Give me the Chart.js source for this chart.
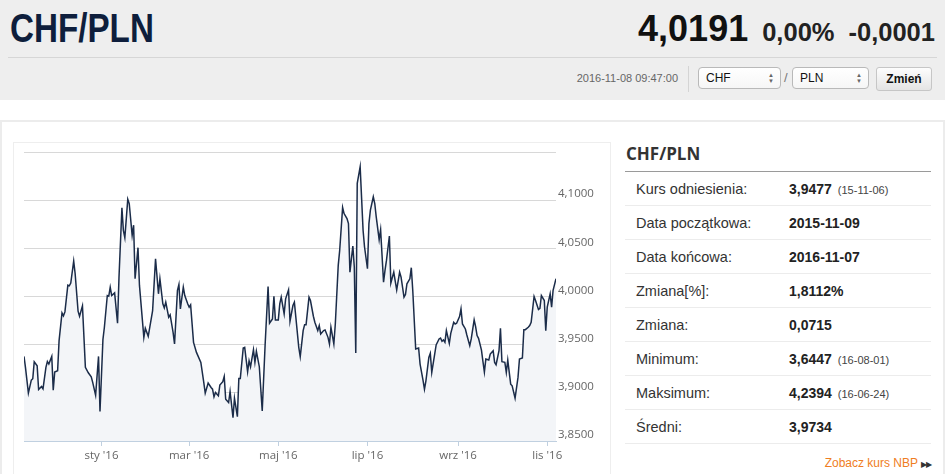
<!DOCTYPE html>
<html lang="pl">
<head>
<meta charset="utf-8">
<title>CHF/PLN</title>
<script src="https://cdn.jsdelivr.net/npm/chart.js"></script>
<style>
  body { margin: 0; width: 945px; height: 474px; overflow: hidden; background: #fff; position: relative; font-family: "Liberation Sans", Arial, sans-serif; }
  .abs { position: absolute; }
  .naglowek { left: 0; top: 0; width: 945px; height: 100px; background: #eeeeee; }
  .tytul { left: 10px; top: 8px; font: bold 40px/40px "Liberation Sans", Arial, sans-serif; color: #0e1e3c; transform: scaleX(0.83); transform-origin: left top; }
  .notowanie { right: 10px; top: 9px; font: bold 36px/40px "Liberation Sans", Arial, sans-serif; color: #111; white-space: nowrap; }
  .notowanie .maly { font-size: 25.5px; color: #222; margin-left: 14px; }
  .linia { left: 8px; top: 57px; width: 929px; height: 1px; background: #d6d6d6; }
  .data { right: 267px; top: 71px; font-size: 11px; line-height: 14px; color: #666; }
  .pion { left: 688px; top: 66px; width: 1px; height: 26px; background: #d4d4d4; }
  .wybor { top: 67px; height: 22px; box-sizing: border-box; border: 1px solid #b9b9b9; border-radius: 4px; background: linear-gradient(#fff, #f6f6f6); font-size: 12px; line-height: 20px; padding-left: 7px; color: #111; }
  .wybor .strz { position: absolute; right: 6px; top: 4px; font-size: 6px; line-height: 6px; color: #666; }
  .slash { left: 784px; top: 70px; font-size: 13px; line-height: 16px; color: #777; }
  .przycisk { left: 876px; top: 67px; width: 56px; height: 24px; box-sizing: border-box; border: 1px solid #c6c6c6; border-radius: 3px; background: linear-gradient(#fdfdfd, #e4e4e4); font: bold 12px/22px "Liberation Sans", Arial, sans-serif; text-align: center; color: #111; }
  .karta { left: 0; top: 120px; width: 945px; height: 400px; box-sizing: border-box; border: 2px solid #ececec; }
  .ramka { left: 13px; top: 142px; width: 598px; height: 360px; box-sizing: border-box; border: 1px solid #eeeeee; }
  .wykres { left: 14px; top: 143px; width: 597px; height: 331px; }
  .panel-tytul { left: 626px; top: 144px; font: bold 17px/20px "Open Sans", sans-serif; color: #333; }
  .panel-linia { left: 625px; top: 171px; width: 306px; height: 1px; background: #9a9a9a; }
  .tabela { left: 625px; top: 172px; width: 306px; }
  .wiersz { position: relative; height: 33px; border-bottom: 1px solid #ececec; line-height: 34px; font-size: 14.5px; color: #333; }
  .wiersz .et { position: absolute; left: 11px; }
  .wiersz .wart { position: absolute; left: 164px; font-weight: bold; font-size: 14px; color: #222; }
  .wiersz .wart small { font-weight: normal; font-size: 11px; color: #444; margin-left: 6px; }
  .nbp { right: 14px; top: 455px; font-size: 12px; line-height: 16px; color: #ef7d22; }
  .nbp span { color: #333; font-size: 8px; margin-left: 3px; letter-spacing: -1px; }
</style>
</head>
<body>
<div class="abs naglowek"></div>
<div class="abs tytul">CHF/PLN</div>
<div class="abs notowanie">4,0191<span class="maly">0,00%</span><span class="maly">-0,0001</span></div>
<div class="abs linia"></div>
<div class="abs data">2016-11-08 09:47:00</div>
<div class="abs pion"></div>
<div class="abs wybor" style="left:698px;width:83px;">CHF<span class="strz">▲<br>▼</span></div>
<div class="abs slash">/</div>
<div class="abs wybor" style="left:792px;width:77px;">PLN<span class="strz">▲<br>▼</span></div>
<div class="abs przycisk">Zmień</div>

<div class="abs karta"></div>
<div class="abs ramka"></div>
<div class="abs wykres"><canvas id="kursWykres"></canvas></div>

<div class="abs panel-tytul">CHF/PLN</div>
<div class="abs panel-linia"></div>
<div class="abs tabela">
  <div class="wiersz"><span class="et">Kurs odniesienia:</span><span class="wart">3,9477<small>(15-11-06)</small></span></div>
  <div class="wiersz"><span class="et">Data początkowa:</span><span class="wart">2015-11-09</span></div>
  <div class="wiersz"><span class="et">Data końcowa:</span><span class="wart">2016-11-07</span></div>
  <div class="wiersz"><span class="et">Zmiana[%]:</span><span class="wart">1,8112%</span></div>
  <div class="wiersz"><span class="et">Zmiana:</span><span class="wart">0,0715</span></div>
  <div class="wiersz"><span class="et">Minimum:</span><span class="wart">3,6447<small>(16-08-01)</small></span></div>
  <div class="wiersz"><span class="et">Maksimum:</span><span class="wart">4,2394<small>(16-06-24)</small></span></div>
  <div class="wiersz"><span class="et">Średni:</span><span class="wart">3,9734</span></div>
</div>
<div class="abs nbp">Zobacz kurs NBP<span>▶▶</span></div>

<script>
// dni liczone od 2015-11-09 (poczatek zakresu)
const dni = [0,1,3,5,6,7,9,10,12,13,15,16,17,19,20,21,23,24,26,27,28,30,31,32,34,35,37,38,40,42,44,46,47,49,51,52,54,55,57,58,59,60,62,64,65,67,68,69,71,72,74,75,76,78,79,82,83,85,88,90,92,
  93,95,96,97,99,100,102,103,105,106,107,109,110,112,113,114,116,118,121,123,124,126,128,129,130,131,133,134,136,137,138,140,141,143,144,146,147,148,150,151,153,154,155,157,158,159,161,163,165,167,168,170,171,172,174,175,176,178,179,181,182,184,185,
  188,189,191,192,193,195,196,198,199,201,202,203,205,206,208,209,210,212,213,215,216,218,219,221,222,223,225,226,227,228,230,232,233,235,236,237,239,240,241,243,244,246,247,248,250,251,253,254,255,257,258,260,261,262,264,265,266,268,270,271,273,274,275,277,
  278,279,281,282,284,285,286,287,288,289,291,292,294,295,296,298,299,300,302,303,305,306,308,309,310,311,313,314,315,316,318,319,321,322,323,325,326,327,329,330,331,333,334,336,338,339,341,342,343,345,346,347,349,350,352,353,354,356,357,358,360,361,362,364];

const kurs = [3.9378,3.9264,3.8997,3.9132,3.9146,3.9323,3.9281,3.9035,3.9066,3.9042,3.9264,3.9326,3.9299,3.9378,3.9028,3.9215,3.9229,3.9542,3.9830,3.9799,
  3.9840,4.0118,4.0111,4.0139,4.0368,4.0236,3.9847,3.9795,3.9903,3.9264,3.9208,3.9167,3.9108,3.8976,3.9378,3.8806,3.9552,3.9681,4.0010,4.0003,
  4.0097,4.0010,4.0038,3.9722,4.0201,4.0920,4.0687,4.0611,4.1010,4.0965,4.0635,4.0740,4.0184,4.0507,4.0115,3.9576,3.9670,3.9587,3.9854,4.0392,4.0028,
  4.0184,3.9924,3.9882,3.9941,3.9785,3.9809,3.9628,3.9507,4.0063,4.0125,3.9872,4.0097,4.0010,3.9924,3.9889,3.9913,3.9524,3.9420,3.9316,3.9108,
  3.8997,3.9101,3.9056,3.9038,3.8958,3.9003,3.8969,3.9080,3.9115,3.9170,3.8934,3.8899,3.9014,3.8743,3.8944,3.8753,3.9150,3.9150,3.9465,3.9472,
  3.9219,3.9333,3.9271,3.9448,3.9316,3.9431,3.9271,3.8813,3.9507,4.0104,3.9722,3.9767,4.0003,3.9757,3.9757,3.9924,3.9993,3.9819,3.9976,4.0069,
  3.9743,3.9906,3.9941,
  3.9472,3.9375,3.9646,3.9708,3.9708,3.9993,3.9958,3.9795,3.9733,3.9646,3.9698,3.9611,3.9646,3.9653,3.9576,3.9507,3.9681,3.9507,3.9715,4.0323,
  4.0479,4.0924,4.0861,4.0809,4.0757,4.0253,4.0524,4.0306,3.9413,4.1174,4.1347,4.0687,4.0514,4.0288,4.0757,4.0896,4.1035,4.0965,4.0826,4.0590,
  4.0694,4.0149,4.0271,4.0375,4.0628,4.0139,4.0253,4.0160,4.0069,4.0253,4.0201,3.9993,4.0021,4.0132,4.0184,4.0299,4.0063,3.9455,3.9465,3.9299,
  3.9132,3.9038,3.9125,3.9368,
  3.9410,3.9212,3.9403,3.9497,3.9559,3.9569,3.9535,3.9549,3.9524,3.9646,3.9514,3.9618,3.9733,3.9715,3.9722,3.9792,3.9872,3.9715,3.9663,3.9601,
  3.9490,3.9559,3.9757,3.9687,3.9594,3.9566,3.9444,3.9326,3.9215,3.9351,3.9340,3.9403,3.9437,3.9316,3.9292,3.9437,3.9670,3.9323,3.9316,3.9212,
  3.9340,3.9090,3.9073,3.8944,3.9160,3.9351,3.9361,3.9656,3.9656,3.9681,3.9698,3.9733,4.0000,3.9958,3.9865,3.9878,4.0010,3.9958,3.9646,3.9889,
  4.0028,3.9889,4.0063,4.0184];

// poczatki miesiecy na osi X
const dniEtykiet = [53, 113, 174, 235, 297, 358];
const etykietyX = ["sty '16", "mar '16", "maj '16", "lip '16", "wrz '16", "lis '16"];

const osY = { min: 3.85, max: 4.15, krok: 0.05 };

const punkty = dni.map((d, i) => ({ x: d, y: kurs[i] }));

Chart.defaults.font.family = "'Open Sans', sans-serif";

new Chart(document.getElementById('kursWykres'), {
  type: 'line',
  data: {
    datasets: [{
      data: punkty,
      borderColor: '#1b2c49',
      borderWidth: 1.5,
      backgroundColor: '#f3f5f8',
      fill: 'start',
      pointRadius: 0,
      tension: 0
    }]
  },
  options: {
    responsive: true,
    maintainAspectRatio: false,
    animation: false,
    layout: { padding: { left: 10, top: 9, right: 0, bottom: 0 } },
    plugins: { legend: { display: false }, tooltip: { enabled: false } },
    scales: {
      x: {
        type: 'linear',
        min: 0,
        max: 364,
        afterBuildTicks: (skala) => { skala.ticks = dniEtykiet.map(v => ({ value: v })); },
        afterFit: (skala) => { skala.height = 33; },
        ticks: {
          autoSkip: false,
          maxRotation: 0,
          padding: 3,
          color: '#666',
          font: { size: 11.5 },
          callback: (v, i) => etykietyX[i]
        },
        grid: { drawOnChartArea: false, drawTicks: true, tickLength: 5, color: '#c0d0e0' },
        border: { display: true, color: '#c0d0e0' }
      },
      y: {
        position: 'right',
        min: osY.min,
        max: osY.max,
        afterFit: (skala) => { skala.width = 55; },
        ticks: {
          stepSize: osY.krok,
          padding: 2,
          labelOffset: -6,
          color: '#666',
          font: { size: 11.5 },
          callback: (v) => Math.abs(v - osY.max) < 1e-6 ? '' : v.toFixed(4).replace('.', ',')
        },
        grid: { color: '#d8d8d8', drawTicks: false },
        border: { display: false }
      }
    }
  }
});
</script>
</body>
</html>
